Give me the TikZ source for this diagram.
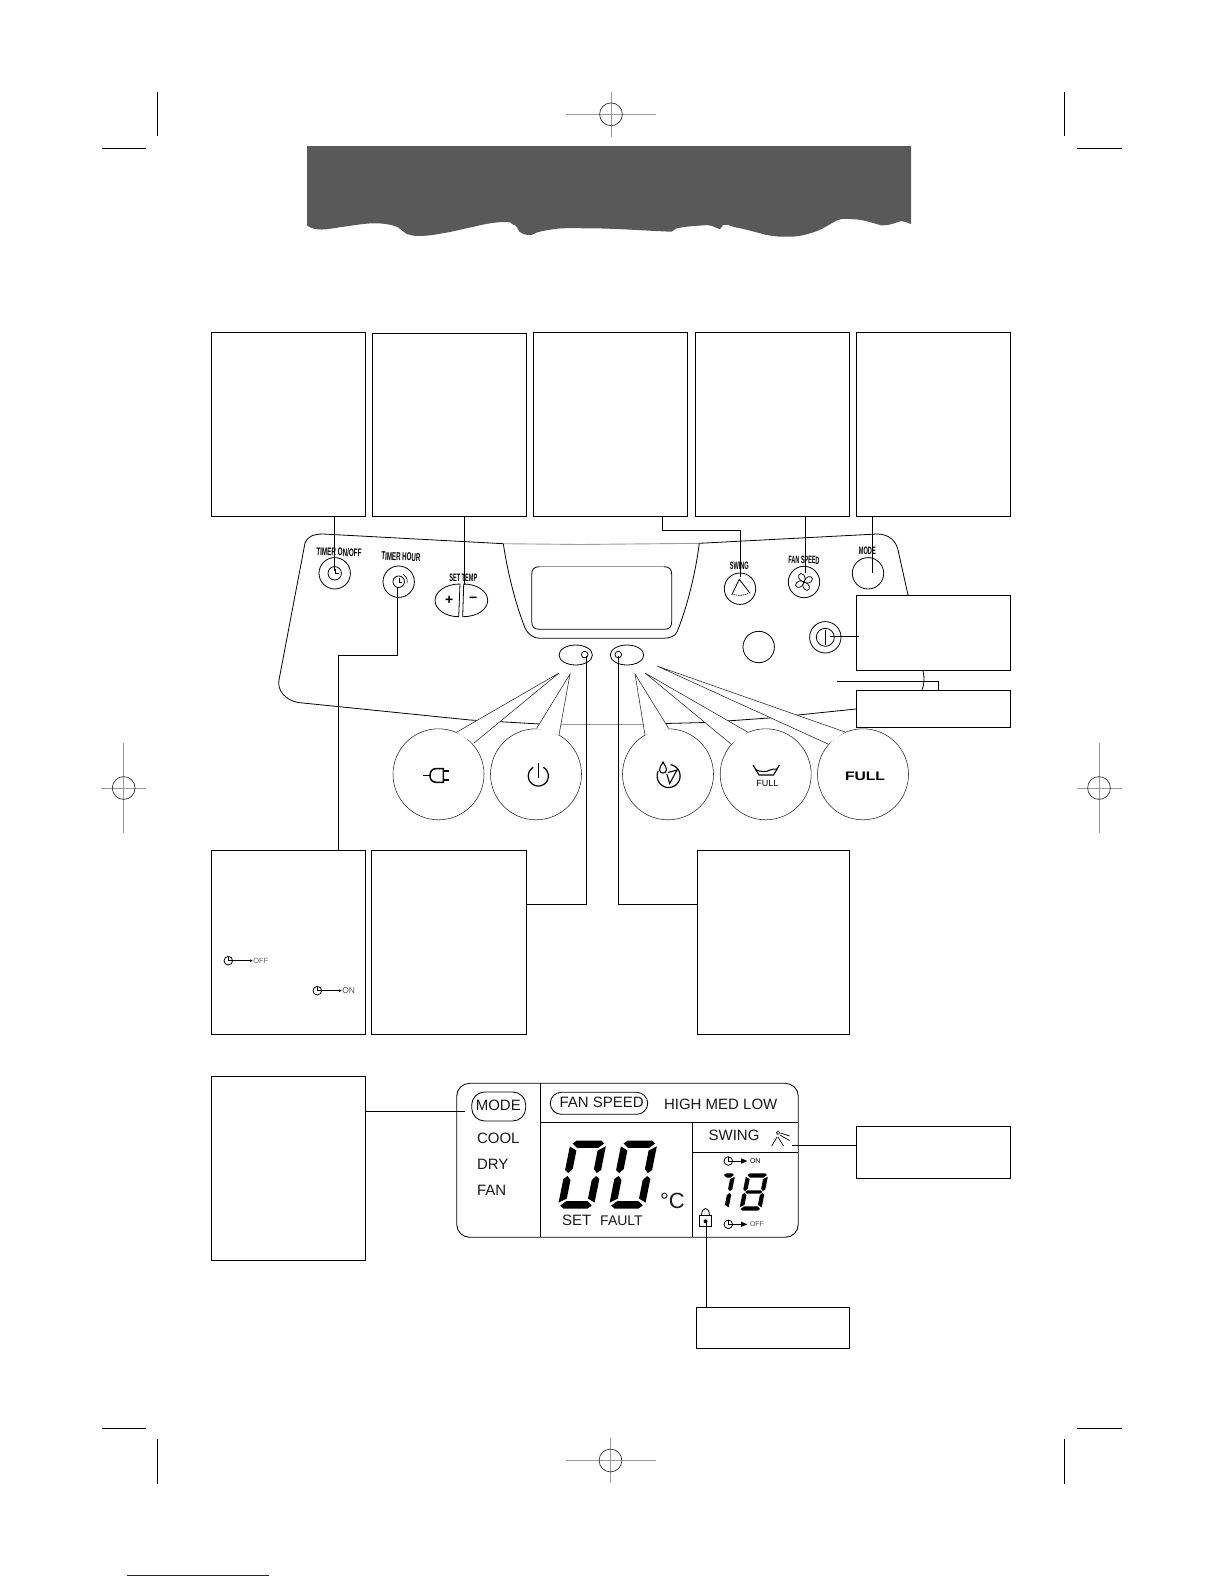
\documentclass[tikz,border=0pt]{standalone}
\usepackage{fontspec}
\setmainfont{Liberation Sans}
\usetikzlibrary{fit,calc,shapes.geometric,arrows.meta}
\newcommand\fs[1]{\fontsize{#1}{#1}\selectfont}
\newcommand\fitxt[3]{\resizebox{#1pt}{#2pt}{#3}}
\definecolor{bannergray}{HTML}{595959}
\definecolor{softgray}{HTML}{9A9A9A}
\definecolor{marknavy}{HTML}{1A1A80}
\tikzset{
  x=1pt,y=-1pt,
  infobox/.style={draw=black,fill=white,line width=.85pt,inner sep=0pt,outer sep=0pt},
  link/.style={draw=black,line width=.9pt},
  outline/.style={draw=black,line width=.8pt},
  btn/.style={circle,draw=black,fill=white,line width=.8pt,minimum size=31.4pt,inner sep=0pt,outer sep=0pt},
  inner/.style={circle,draw=black,line width=.8pt,inner sep=0pt,outer sep=0pt},
  led/.style={ellipse,draw=black,line width=.8pt,minimum width=33.4pt,minimum height=20pt,inner sep=0pt,outer sep=0pt},
  bubblec/.style={circle,draw=black!85,fill=white,line width=.55pt,minimum size=91pt,inner sep=0pt,outer sep=0pt},
  crop/.style={draw=black,line width=.85pt},
  reggray/.style={draw=softgray,line width=.9pt},
  lbl/.style={inner sep=0pt,outer sep=0pt,text=black},
  lcdtxt/.style={inner sep=0pt,outer sep=0pt,text=black!90,font=\fs{15}},
  lcdline/.style={draw=black,line width=.85pt},
}
\newcommand\arcp[6][]{\draw[#1] plot[domain=#5:#6,samples=48] ({#2+#4*cos(\x)},{#3+#4*sin(\x)});}
\newcommand\infobox[5]{\node[infobox,fit={(#2,#3)(#4,#5)}] (#1) {};}
\newcommand\bubble[8]{%
  \node[bubblec] (#1) at (#2,774.3) {};
  \coordinate (#1-tip) at (#3,#4);
  \coordinate (#1-a) at (#5,#6);
  \coordinate (#1-b) at (#7,#8);
  \fill[white] (#1-tip) -- (#1-a) -- (#1-b) -- cycle;
  \draw[draw=black!85,line width=.55pt] (#1-a) -- (#1-tip) -- (#1-b);
}
\newcommand\segT{\fill ({.3*\dT},{.4*\dT}) -- ({.8*\dT},0) -- ({\dW-.8*\dT},0) -- ({\dW-.3*\dT},{.4*\dT}) -- ({\dW-\dT},{\dT}) -- ({\dT},{\dT}) -- cycle;}
\newcommand\segUL{\fill (0,{.8*\dT}) -- ({\dT},{1.35*\dT}) -- ({\dT},{\dH/2-.75*\dT}) -- ({.5*\dT},{\dH/2-.2*\dT}) -- (0,{\dH/2-.6*\dT}) -- cycle;}
\newcommand\segB{\begin{scope}[shift={(0,\dH)},yscale=-1]\segT\end{scope}}
\newcommand\segUR{\begin{scope}[shift={(\dW,0)},xscale=-1]\segUL\end{scope}}
\newcommand\segLL{\begin{scope}[shift={(0,\dH)},yscale=-1]\segUL\end{scope}}
\newcommand\segLR{\begin{scope}[shift={(\dW,\dH)},xscale=-1,yscale=-1]\segUL\end{scope}}
\newcommand\lcddigit[6]{%
  \begin{scope}[shift={(#1,#2)},xslant=.2]
    \def\dW{#3}\def\dH{#4}\def\dT{#5}
    \foreach \s in {#6}{\csname seg\s\endcsname}
  \end{scope}}
\newcommand\tinyclock[2]{%
  \node[inner,minimum size=8.6pt] (clk#1#2) at (#1,#2) {};
  \draw[line width=.7pt] (#1,#2-4.3) -- (#1,#2) -- (#1+4.3,#2);
}
\begin{document}
\begin{tikzpicture}
\useasboundingbox (0,0) rectangle (1224,1584);
\fill[white] (0,0) rectangle (1224,1584);

% printer's marks
\draw[crop] (157.7,92) -- (157.7,136.5);
\draw[crop] (101.5,148) -- (145.5,148);
\draw[crop] (1064.5,92) -- (1064.5,136.5);
\draw[crop] (1076.6,148) -- (1122,148);
\draw[crop] (157.7,1439) -- (157.7,1484);
\draw[crop] (101.5,1428.3) -- (146,1428.3);
\draw[crop] (1064.5,1439) -- (1064.5,1484);
\draw[crop] (1076.6,1428.3) -- (1122,1428.3);
\draw[draw=marknavy,line width=1pt] (126.7,1575) -- (269,1575);
\foreach \cx/\cy in {611/114.3,610.5/1460.5}{
  \draw[reggray] (\cx,\cy-22.5) -- (\cx,\cy+22.5);
  \draw[reggray,line width=.7pt] (\cx-45,\cy) -- (\cx+45,\cy);
}
\foreach \cx/\cy in {123.7/788,1099/788}{
  \draw[reggray] (\cx,\cy-45) -- (\cx,\cy+45);
  \draw[reggray,line width=.7pt] (\cx-22.5,\cy) -- (\cx+22.5,\cy);
}
\foreach \cx/\cy in {611/114.3,610.5/1460.5,123.7/788,1099/788}{
  \draw[draw=black!80,line width=.7pt] (\cx,\cy) circle[radius=11.4];
}

% banner
\fill[bannergray] (307,146) -- (911,146) -- (911,224)
  .. controls (907,222.5) and (904,221) .. (901,221)
  .. controls (895,223) and (888,226) .. (881.3,225.3)
  .. controls (872,223) and (863,219.3) .. (853.6,219.3)
  .. controls (848,219) and (843,218) .. (837.8,220)
  .. controls (828,225) and (820,231) .. (810,233.3)
  .. controls (802,236) and (794,237) .. (786.4,236.7)
  .. controls (779,237) and (772,236) .. (766.6,235)
  .. controls (755,232) and (745,229) .. (735,227.3)
  .. controls (731,226) and (727,224) .. (723,225)
  -- (720,229.3) -- (712,226) -- (707.3,225)
  .. controls (697,226) and (686,226) .. (675.6,228.7)
  -- (671.7,231.7)
  .. controls (650,231) and (610,228) .. (584.7,228.3)
  .. controls (570,228) and (560,228) .. (553,229.3)
  .. controls (548,230) and (542,231) .. (537.2,232.3)
  .. controls (533,235) and (530,235.5) .. (527.4,235)
  .. controls (522,234) and (520,232) .. (519.5,231.7)
  .. controls (517,228) and (516,224) .. (513.5,225)
  .. controls (512,222) and (509,222) .. (505.6,222)
  .. controls (495,222) and (485,224) .. (474,226.7)
  .. controls (462,229) and (452,232) .. (442.3,233.3)
  .. controls (434,235) and (426,236) .. (418.6,236)
  .. controls (413,236) and (410,235) .. (406.8,234)
  .. controls (402,231) and (399,227) .. (394.9,226)
  .. controls (388,224) and (380,223) .. (371.2,223.3)
  .. controls (360,224) and (350,226) .. (339.5,227.3)
  .. controls (330,229) and (322,230) .. (317.8,229.3)
  .. controls (313,229) and (308,227) .. (307,225) -- cycle;

% control panel
\draw[outline] (305,543) .. controls (307,537) and (313,534) .. (323,534)
  -- (503.3,543.7);
\draw[draw=softgray,line width=.9pt] (503.3,543.7) -- (580,544.5) -- (699.3,543.3);
\draw[outline] (699.3,543.3) -- (877,534)
  .. controls (889,534) and (896,541) .. (898,550)
  -- (908,595) -- (923,671)
  .. controls (924.5,677) and (924.5,684) .. (922,690)
  .. controls (918,701) and (890,705) .. (856,709);
\draw[outline] (305,543) -- (279,680)
  .. controls (277,690) and (285,700) .. (298,702.5)
  -- (470,720) -- (540,724);
\draw[draw=softgray,line width=.9pt] (540,724) -- (645,724);
\draw[outline] (645,724) -- (705,722.5) -- (769,718) -- (856,709);

% display surround
\draw[outline] (503.3,543.7) .. controls (508,575) and (516,605) .. (525,628)
  .. controls (528,634) and (533,638.3) .. (540,638.3)
  -- (663,638.3) .. controls (670,638.3) and (675,636) .. (677,632)
  .. controls (688,605) and (696,570) .. (699.3,543.3);
\draw[outline] (539.7,566.7) .. controls (534,566.7) and (531.7,569) .. (531.7,574.7)
  -- (531.7,621.3) .. controls (531.7,627) and (534,629.3) .. (539.7,629.3)
  -- (663.7,629.3) .. controls (669.4,629.3) and (671.7,627) .. (671.7,621.3)
  -- (671.7,574.7) .. controls (671.7,569) and (669.4,566.7) .. (663.7,566.7);
\draw[draw=softgray,line width=.9pt] (539.7,566.7) -- (663.7,566.7);

% buttons
\node[btn] (btnTimer) at (334.7,573.3) {};
\node[inner,minimum size=13.4pt] (btnTimerIn) at (334.7,573.3) {};
\draw[line width=.7pt] (335,569) -- (335,573.5) -- (338.5,573.5);
\node[btn] (btnHour) at (398.7,581.7) {};
\node[inner,minimum size=11.5pt] (btnHourIn) at (398.7,581.7) {};
\draw[line width=.6pt] (399,578) -- (399,582) -- (402,582);
\arcp[line width=.6pt]{398.7}{581.7}{8.5}{-60}{10}
\node[btn] (btnSwing) at (740,588.7) {};
\draw[line width=.8pt] (731.7,595) -- (739.3,579.3) -- (750,593.3);
\draw[line width=.7pt,dash pattern=on 1.5pt off .8pt] (733.5,594.5) .. controls (738,596) and (744,595.5) .. (748,593.5);
\node[btn] (btnFan) at (804,582) {};
\foreach \a in {20,110,200,290}{
  \begin{scope}[shift={(804,582)},rotate=\a]
    \draw[line width=.7pt] (0,0) .. controls (2,-1) and (4.5,-6.5) .. (0,-9)
      .. controls (-4.5,-9.5) and (-5,-3) .. (0,0);
  \end{scope}
}
\node[btn] (btnMode) at (868,573.3) {};
\node[btn] (btnBlank) at (758.7,647) {};
\node[btn] (btnPower) at (825.3,637.3) {};
\node[inner,minimum size=18pt] (btnPowerIn) at (825.3,637.3) {};
\draw[line width=.8pt] (825.3,629.5) -- (825.3,645);
\draw[outline,fill=white] (460,584) .. controls (445,584) and (435,592) .. (435,600.3)
  .. controls (435,609) and (445,616.7) .. (458.7,616.7) -- cycle;
\draw[outline,fill=white] (463.7,584) .. controls (478,584) and (487.7,592) .. (487.7,600.3)
  .. controls (487.7,609) and (478,616.7) .. (462.7,616.7) -- cycle;
\node[lbl,font=\bfseries\fs{14}] (plusLbl) at (449.3,600) {+};
\node[lbl,font=\bfseries\fs{14}] (minusLbl) at (473.3,600) {−};

% button labels
\node[lbl,rotate=-2] (tTimer) at (339,552) {\fitxt{45}{8}{\bfseries TIMER ON/OFF}};
\node[lbl,rotate=-2] (tHour) at (401,556.7) {\fitxt{39}{8}{\bfseries TIMER HOUR}};
\node[lbl] (tTemp) at (463.3,577.3) {\fitxt{28}{7.5}{\bfseries SET TEMP}};
\node[lbl] (tSwing) at (739.3,566) {\fitxt{19}{7.5}{\bfseries SWING}};
\node[lbl,rotate=-2] (tFan) at (804,560) {\fitxt{31}{7.5}{\bfseries FAN SPEED}};
\node[lbl] (tMode) at (867.3,551) {\fitxt{17}{7.5}{\bfseries MODE}};

% indicator ovals
\node[led] (ledL) at (575.7,655) {};
\node[led] (ledR) at (627,655) {};
\node[inner,minimum size=6.6pt] (ledLdot) at (584.7,654.6) {};
\node[inner,minimum size=6.6pt] (ledRdot) at (618.3,654.6) {};

% bubbles
\bubble{bubA}{438.5}{559}{673}{456.5}{732.3}{473.7}{743.3}
\bubble{bubB}{536}{570}{674}{536.7}{728.3}{559}{735}
\bubble{bubC}{668}{635}{674}{645}{735}{668.6}{728.3}
\bubble{bubD}{765.7}{645}{673}{731}{744}{748}{732.3}
\bubble{bubE}{863}{657}{666}{828}{744}{845}{732}

% plug icon
\draw[line width=1.5pt] (423.3,775.7) -- (430,775.7);
\draw[line width=1.5pt] (443.3,768.5) -- (436,768.5) .. controls (431.5,769) and (430,772) .. (430,775.7)
  .. controls (430,779) and (431.5,782) .. (436,782.3) -- (443.3,782.3) -- cycle;
\draw[line width=2.4pt] (443.3,771) -- (449.3,771);
\draw[line width=2.4pt] (443.3,779.8) -- (449.3,779.8);
% stand-by icon
\arcp[line width=1.2pt]{538.3}{776}{10}{-60}{240}
\draw[line width=1.2pt] (538.3,763.3) -- (538.3,778);
% drain icon
\arcp[line width=1.2pt]{668.6}{776}{11.5}{-80}{205}
\draw[line width=1.1pt] (663,762) .. controls (661,766) and (659,768) .. (659.5,770)
  .. controls (660,774) and (666,774) .. (666.5,770) .. controls (667,768) and (665,766) .. (663,762) -- cycle;
\draw[line width=1.1pt] (668,772.5) -- (677,770) -- (669.7,783.5) -- (666.8,774);
% basin icon
\draw[line width=1.1pt] (753,765) -- (759,775) -- (773.5,775) -- (779.4,765);
\draw[line width=1.1pt] (755,769.5) .. controls (761,772) and (766,772.5) .. (770,770) .. controls (772,769) and (775,769) .. (777.5,769);
\node[lbl,font=\fs{9}] (tFullA) at (767.4,783.3) {FULL};
\node[lbl] (tFullB) at (865,776.2) {\fitxt{40}{8.5}{\bfseries FULL}};

% information boxes
\infobox{boxA}{211}{332}{365.7}{516.3}
\infobox{boxB}{372.3}{333.5}{526.7}{516.3}
\infobox{boxC}{533}{332}{687.3}{516.3}
\infobox{boxD}{695.3}{332}{849.3}{516.3}
\infobox{boxE}{856.7}{332}{1010.3}{516.3}
\infobox{boxF}{856.7}{595.3}{1010.3}{670.3}
\infobox{boxG}{856.7}{690.3}{1010.3}{727.3}
\infobox{boxH}{211}{850}{365.6}{1034}
\infobox{boxI}{371.6}{850}{526}{1034}
\infobox{boxJ}{697}{850}{849.5}{1034}
\infobox{boxK}{211}{1076}{365.6}{1260}
\infobox{boxL}{856.7}{1126}{1010.3}{1178}
\infobox{boxM}{696}{1307}{849.5}{1348}

% timer legend inside box H
\tinyclock{228.3}{960.7}
\draw[line width=.7pt,-{Latex[length=3pt,width=3pt]}] (232.6,960.7) -- (253,960.7);
\node[lbl,anchor=west,font=\fs{7.5},text=black!60] (tOff) at (253.3,960.7) {OFF};
\tinyclock{317.3}{990.7}
\draw[line width=.7pt,-{Latex[length=3pt,width=3pt]}] (321.6,990.7) -- (342,990.7);
\node[lbl,anchor=west,font=\fs{8.5},text=black!70] (tOn) at (342.3,990.7) {ON};

% connectors
\coordinate (endA) at (334.3,571);
\coordinate (endB) at (464.3,585);
\coordinate (endC) at (740.3,577);
\coordinate (endD) at (805.3,573);
\coordinate (endE) at (872.3,572.7);
\coordinate (endF) at (830,636.3);
\coordinate (endG) at (837.3,681.3);
\coordinate (startC) at (662.3,516.3);
\coordinate (startF) at (859,636.3);
\coordinate (startG) at (938.3,690.3);
\coordinate (startH) at (338.3,850);
\draw[link] (boxA.south -| endA) -- (endA);
\draw[link] (boxB.south -| endB) -- (endB);
\draw[link] (startC) -- (662.3,530.3) -- (740.3,530.3) -- (endC);
\draw[link] (boxD.south -| endD) -- (endD);
\draw[link] (boxE.south -| endE) -- (endE);
\draw[link] (startF) -- (endF);
\draw[link] (endG) -- (938.3,681.3) -- (startG);
\coordinate (endH) at (397.3,587);
\draw[link] (endH) -- (397.3,655) -- (338.3,655) -- (startH);
\coordinate (endI) at (586,656);
\coordinate (portI) at (526,904);
\draw[link] (endI) -- (586,904) -- (portI);
\coordinate (endJ) at (618.5,656);
\coordinate (portJ) at (697,904);
\draw[link] (endJ) -- (618.5,904) -- (portJ);

% LCD
\draw[lcdline,rounded corners=13pt] (456.7,1083.3) rectangle (798.3,1237.3);
\draw[lcdline] (540.3,1083.3) -- (540.3,1237.3);
\draw[lcdline] (540.3,1122.3) -- (798.3,1122.3);
\draw[lcdline] (692.3,1122.3) -- (692.3,1237.3);
\draw[lcdline] (692.3,1152.3) -- (798.3,1152.3);
\node[draw=black,line width=.85pt,rounded corners=13pt,fit={(471.7,1092)(525.7,1121)},inner sep=0pt] (capMode) {};
\node[draw=black,line width=.85pt,rounded corners=11pt,fit={(550.3,1092.3)(647.7,1114.3)},inner sep=0pt] (capFan) {};
\node[lcdtxt] (lMode) at (498.3,1105.7) {MODE};
\node[lcdtxt,anchor=west] (lCool) at (477,1138.3) {COOL};
\node[lcdtxt,anchor=west] (lDry) at (477,1164.3) {DRY};
\node[lcdtxt,anchor=west] (lFanM) at (477,1190.3) {FAN};
\node[lcdtxt] (lFan) at (601.7,1102.3) {FAN SPEED};
\node[lcdtxt] (lHigh) at (720.7,1104) {HIGH MED LOW};
\node[lcdtxt] (lSwing) at (734,1135.7) {SWING};
\node[lcdtxt,anchor=base west,font=\fs{22}] (lDeg) at (660,1208.3) {°C};
\node[lcdtxt] (lSet) at (576.8,1220.7) {SET};
\node[lcdtxt,font=\fs{14}] (lFault) at (621.5,1220.7) {FAULT};
\lcddigit{571}{1140.5}{36}{68}{7.4}{T,UL,UR,LL,LR,B}
\lcddigit{622}{1140.5}{36}{68}{7.4}{T,UL,UR,LL,LR,B}
\lcddigit{723}{1173.3}{12.5}{37.4}{4.3}{T,UR,LR}
\lcddigit{746.5}{1173.3}{22}{37.4}{4.3}{T,UL,UR,LL,LR,B}
\begin{scope}[shift={(746.5,1173.3)},xslant=.2]
  \fill (4.5,17) -- (17.5,17) -- (19.5,18.7) -- (17.5,20.4) -- (4.5,20.4) -- (2.5,18.7) -- cycle;
\end{scope}
% swing icon
\draw[line width=.6pt] (778,1132.7) circle[radius=1.7];
\draw[line width=.7pt] (780.5,1133) -- (789.5,1136);
\draw[line width=.7pt] (780,1135) -- (789.5,1140.5);
\draw[line width=.7pt] (777,1137) -- (771.7,1146);
\draw[line width=.7pt] (778,1137) -- (783.5,1146);
% timer marks on the LCD
\tinyclock{728.3}{1161}
\draw[line width=.8pt] (732.6,1161) -- (741,1161);
\fill (741,1158.3) -- (747.3,1161) -- (741,1163.7) -- cycle;
\node[lbl,anchor=west,font=\fs{7}] (lOn) at (750,1161) {ON};
\tinyclock{728.3}{1224.3}
\draw[line width=.8pt] (732.6,1224.3) -- (741,1224.3);
\fill (741,1221.6) -- (747.3,1224.3) -- (741,1227) -- cycle;
\node[lbl,anchor=west,font=\fs{7},text=black!70] (lOffL) at (750,1224.3) {OFF};
% lock
\draw[line width=.9pt] (699.7,1215.7) rectangle (711,1226.7);
\draw[line width=.8pt] (701.5,1215.7) .. controls (701.5,1206) and (709.5,1206) .. (709.5,1215.7);
\fill (705.5,1221.3) circle[radius=2];
% LCD connectors
\coordinate (endK) at (465,1111.3);
\coordinate (endL) at (791.7,1145.7);
\coordinate (endM) at (706.3,1221.7);
\draw[link] (boxK.east |- endK) -- (endK);
\draw[link] (boxL.west |- endL) -- (endL);
\draw[link] (boxM.north -| endM) -- (endM);
\end{tikzpicture}
\end{document}
